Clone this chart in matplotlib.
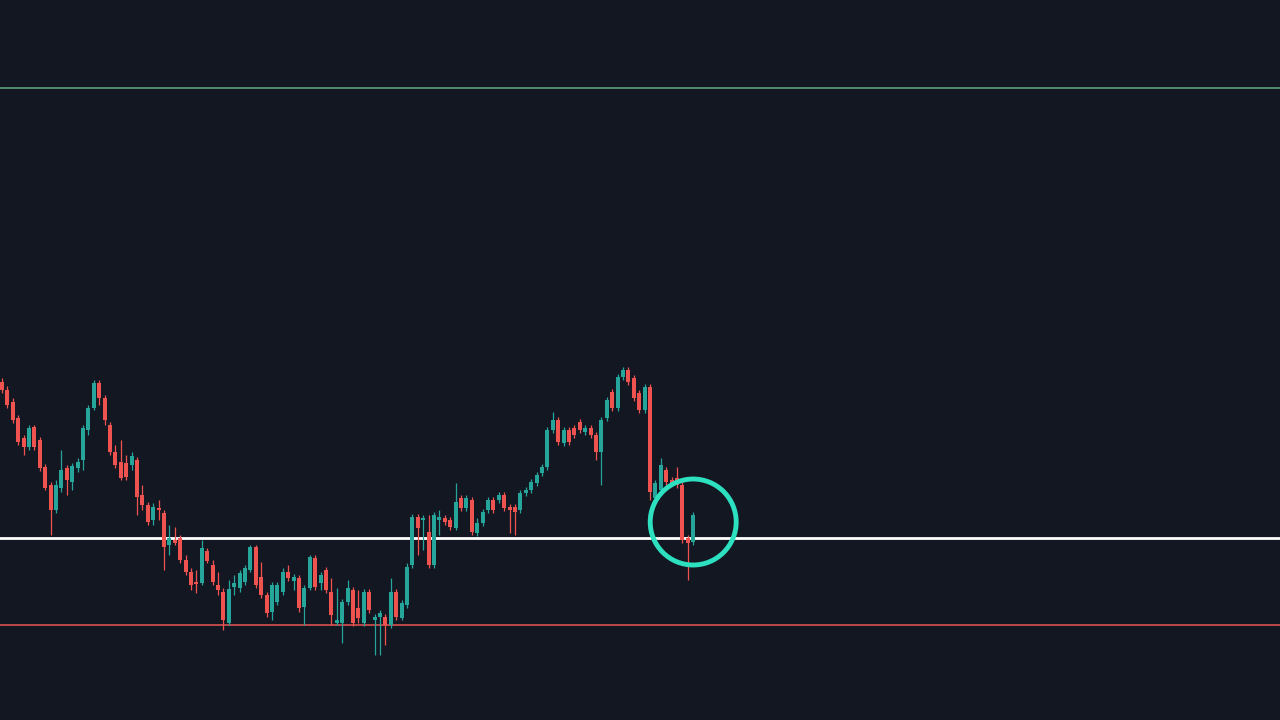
import matplotlib
matplotlib.use('Agg')
import matplotlib.pyplot as plt
from matplotlib.patches import Ellipse
import numpy as np

# chart levels (screen-style units, axis is inverted)
opens = [382, 390, 402, 418, 438, 447, 427, 440, 467, 485, 510, 488, 468, 482, 468, 460, 430, 408, 383, 398,
         425, 452, 462, 463, 465, 460, 495, 505, 520, 508, 513, 545, 540, 538, 560, 572, 582, 583, 551, 565,
         585, 592, 623,
         587, 588, 582, 570, 547, 577, 595, 612, 602, 592, 572, 581, 578, 607, 588, 558, 583, 570, 592, 623,
         623, 602, 590, 608, 623, 592, 620, 617, 617, 625, 592, 618, 605, 565, 517, 520, 532, 565, 520, 518,
         520, 528, 498,
         508, 500, 533, 523, 510, 500, 500, 495, 507, 507, 510, 493, 490, 483, 473, 467, 430, 420, 443, 430,
         428, 422, 432, 428, 435, 452, 418, 392, 408, 377, 370, 378, 393, 410, 387, 498, 490, 470, 480, 478,
         485, 538, 542]
closes = [390, 405, 420, 442, 447, 428, 447, 468, 488, 510, 485, 470, 480, 466, 462, 428, 408, 383, 398, 420,
          452, 465, 478, 477, 456, 497, 505, 522, 507, 510, 547, 538, 543, 560, 572, 585, 583, 548, 561, 582,
          590, 620, 589,
          583, 573, 568, 547, 585, 595, 613, 585, 585, 572, 578, 577, 608, 588, 557, 587, 575, 590, 615, 620,
          602, 588, 623, 618, 592, 610, 617, 613, 625, 592, 617, 603, 567, 517, 528, 518, 565, 515, 517, 522,
          527, 502, 508,
          498, 532, 523, 512, 500, 510, 495, 508, 510, 512, 493, 490, 482, 475, 467, 430, 420, 442, 430, 442,
          435, 430, 428, 435, 452, 420, 400, 408, 377, 370, 382, 398, 410, 387, 492, 483, 465, 482, 483, 485,
          540, 543, 515]
highs = [378, 386, 398, 415, 435, 425, 425, 437, 464, 482, 480, 450, 465, 463, 458, 425, 405, 380, 380, 395,
         422, 445, 440, 455, 452, 457, 485, 502, 503, 500, 510, 525, 527, 535, 555, 568, 570, 540, 548, 560,
         572, 588, 580,
         575, 570, 565, 545, 545, 562, 592, 582, 582, 568, 565, 574, 575, 585, 555, 555, 572, 567, 578, 588,
         599, 580, 587, 590, 589, 589, 614, 610, 614, 578, 589, 600, 563, 514, 514, 515, 515, 512, 510, 515,
         517, 483, 495,
         495, 497, 518, 509, 497, 497, 492, 492, 504, 504, 490, 487, 479, 472, 464, 427, 412, 417, 427, 427,
         425, 419, 425, 425, 432, 417, 397, 389, 374, 367, 367, 375, 390, 384, 384, 480, 458, 467, 477, 467,
         482, 535, 512]
lows = [393, 408, 423, 445, 455, 450, 450, 471, 490, 535, 513, 492, 495, 490, 472, 470, 435, 410, 405, 425,
        455, 468, 480, 480, 470, 515, 510, 525, 525, 520, 570, 555, 545, 563, 575, 590, 593, 585, 563, 585,
        595, 630, 625,
        595, 592, 585, 572, 588, 598, 617, 620, 605, 595, 581, 590, 612, 625, 590, 590, 590, 593, 625, 625,
        643, 605, 626, 623, 626, 613, 655, 655, 645, 628, 620, 620, 608, 568, 555, 550, 568, 568, 535, 525,
        530, 530, 511,
        511, 535, 536, 526, 513, 513, 503, 511, 533, 535, 513, 496, 493, 486, 476, 470, 433, 445, 446, 445,
        438, 433, 435, 438, 460, 485, 421, 411, 411, 380, 385, 401, 413, 413, 500, 501, 493, 485, 486, 488,
        543, 580, 545]

top_level = 88
mid_level = 538
low_level = 625

bg = '#131722'
up_col = '#26a69a'
down_col = '#ef5350'

fig = plt.figure(figsize=(12.8, 7.2), dpi=100, facecolor=bg)
ax = fig.add_axes([0, 0, 1, 1])
ax.set_facecolor(bg)

x = np.arange(len(opens))
o = np.array(opens)
c = np.array(closes)
up = c < o
cols = np.where(up, up_col, down_col)

ax.vlines(x, highs, lows, colors=cols, linewidth=0.9, zorder=2)
body_lo = np.minimum(o, c)
body_h = np.maximum(np.abs(c - o), 1.5)
ax.bar(x, body_h, bottom=body_lo, width=0.72, color=cols, zorder=3)

ax.axhline(top_level, color='#5c9e78', linewidth=1.2, zorder=1)
ax.axhline(mid_level, color='white', linewidth=2, zorder=1)
ax.axhline(low_level, color='#d9514f', linewidth=1.2, zorder=1)

step = 5.4
ax.set_xlim(-2 / step, (1280 - 2) / step)
ax.set_ylim(720, 0)

# highlight circle around the last candles
ax.add_patch(Ellipse((128, 522), width=86 / step, height=86, fill=False,
                     edgecolor='#2de0c0', linewidth=3.5, zorder=4))

ax.axis('off')
fig.savefig('out.png', dpi=100, facecolor=bg)
